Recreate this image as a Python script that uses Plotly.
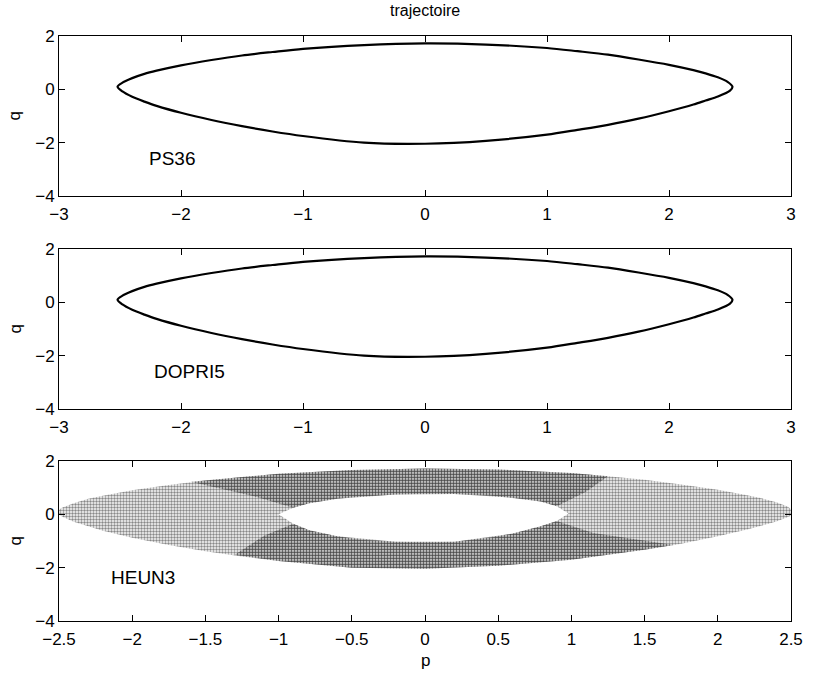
import plotly.graph_objects as go
from plotly.subplots import make_subplots

# Closed orbit (read from the PS36 / DOPRI5 panels): left tip -> top -> right tip -> bottom -> left tip
orbit_p = [-2.52, -2.48, -2.4, -2.3, -2.2, -2.0, -1.75, -1.5, -1.25, -1.0, -0.5, 0.0, 0.5, 1.0, 1.25,
           1.5, 1.75, 2.0, 2.2, 2.3, 2.4, 2.48, 2.52,
           2.5, 2.4, 2.3, 2.2, 2.0, 1.75, 1.5, 1.25, 1.0, 0.5, 0.0, -0.5, -1.0, -1.25, -1.5, -1.75,
           -2.0, -2.2, -2.3, -2.4, -2.48, -2.52]
orbit_q = [0.1, 0.25, 0.42, 0.58, 0.7, 0.9, 1.1, 1.27, 1.4, 1.52, 1.66, 1.72, 1.68, 1.55, 1.43,
           1.3, 1.12, 0.92, 0.72, 0.6, 0.45, 0.28, 0.1,
           -0.05, -0.27, -0.42, -0.57, -0.82, -1.1, -1.33, -1.52, -1.7, -1.93, -2.04, -2.0, -1.75, -1.58,
           -1.38, -1.15, -0.88, -0.62, -0.46, -0.28, -0.08, 0.1]

# Inner empty region of the HEUN3 band
hole_p = [-1.0, -0.9, -0.79, -0.6, -0.44, -0.2, 0.0, 0.2, 0.44, 0.6, 0.79, 0.9, 0.98,
          0.9, 0.79, 0.6, 0.44, 0.2, 0.0, -0.2, -0.44, -0.6, -0.79, -0.9, -1.0]
hole_q = [0.0, -0.35, -0.6, -0.82, -0.95, -1.03, -1.05, -1.03, -0.88, -0.72, -0.45, -0.25, 0.03,
          0.3, 0.48, 0.62, 0.71, 0.76, 0.77, 0.74, 0.67, 0.58, 0.42, 0.25, 0.0]

# Denser (darker) parts of the HEUN3 band: upper and lower arcs around the hole
upper_dense_p = [-1.6, -1.25, -1.0, -0.5, 0.0, 0.5, 1.0, 1.25, 1.1, 0.9, 0.79, 0.6, 0.2, -0.2, -0.6, -0.79, -0.9, -1.15, -1.6]
upper_dense_q = [1.22, 1.4, 1.52, 1.66, 1.72, 1.68, 1.55, 1.43, 0.85, 0.3, 0.48, 0.62, 0.76, 0.74, 0.58, 0.42, 0.25, 0.65, 1.22]
lower_dense_p = [1.7, 1.5, 1.25, 1.0, 0.5, 0.0, -0.5, -1.0, -1.3, -1.1, -0.9, -0.79, -0.6, -0.2, 0.2, 0.6, 0.79, 0.9, 1.15, 1.7]
lower_dense_q = [-1.15, -1.33, -1.52, -1.7, -1.93, -2.04, -2.0, -1.75, -1.52, -0.8, -0.35, -0.6, -0.82, -1.03, -1.03, -0.72, -0.45, -0.25, -0.7, -1.15]

method_labels = ["PS36", "DOPRI5", "HEUN3"]
label_p = [-2.28, -2.24, -2.16]
label_q = [-2.6, -2.6, -2.35]

xticks_top = [-3, -2, -1, 0, 1, 2, 3]
xticks_bottom = [-2.5, -2, -1.5, -1, -0.5, 0, 0.5, 1, 1.5, 2, 2.5]
yticks = [-4, -2, 0, 2]

FAM = "Liberation Sans, Arial, Helvetica, sans-serif"


def fmt(v):
    return ("%g" % v).replace("-", "\u2212")


fig = make_subplots(rows=3, cols=1, vertical_spacing=0.0)

for r in (1, 2):
    fig.add_trace(go.Scatter(x=orbit_p, y=orbit_q, mode="lines",
                             line=dict(color="black", width=2.2, shape="spline", smoothing=0.8),
                             showlegend=False, hoverinfo="skip"), row=r, col=1)

band_p = orbit_p + hole_p + [orbit_p[0]]
band_q = orbit_q + hole_q + [orbit_q[0]]
fig.add_trace(go.Scatter(x=band_p, y=band_q, mode="lines", fill="toself",
                         line=dict(width=0, color="rgba(0,0,0,0)"),
                         fillcolor="rgba(0,0,0,0)",
                         fillpattern=dict(shape=".", fgcolor="#111111", bgcolor="rgba(0,0,0,0)",
                                          size=3, solidity=0.52),
                         showlegend=False, hoverinfo="skip"), row=3, col=1)
for dp, dq in ((upper_dense_p, upper_dense_q), (lower_dense_p, lower_dense_q)):
    fig.add_trace(go.Scatter(x=dp, y=dq, mode="lines", fill="toself", line=dict(width=0, color="rgba(0,0,0,0)"),
                             fillcolor="rgba(0,0,0,0)",
                             fillpattern=dict(shape=".", fgcolor="#111111", bgcolor="rgba(0,0,0,0)",
                                              size=3, solidity=0.66),
                             showlegend=False, hoverinfo="skip"), row=3, col=1)

H = 585.0
W = 741.0
domains = [[(621 - 196) / H, 1.0], [(621 - 409) / H, (621 - 249) / H], [0.0, 160 / H]]
tick_font = dict(family=FAM, size=17, color="black")
text_font = dict(family=FAM, size=19, color="black")

for i in range(3):
    r = i + 1
    xt = xticks_bottom if r == 3 else xticks_top
    xr = [-2.5, 2.5] if r == 3 else [-3, 3]
    fig.update_xaxes(row=r, col=1, range=xr, tickvals=xt, ticktext=[fmt(v) for v in xt],
                     ticks="inside", ticklen=6, tickcolor="black", showline=True, linecolor="black",
                     linewidth=1, mirror="ticks", showgrid=False, zeroline=False, tickfont=tick_font,
                     ticklabelstandoff=3)
    fig.update_yaxes(row=r, col=1, range=[-4, 2], tickvals=yticks, ticktext=[fmt(v) for v in yticks],
                     ticks="inside", ticklen=6, tickcolor="black", showline=True, linecolor="black",
                     linewidth=1, mirror="ticks", showgrid=False, zeroline=False, tickfont=tick_font,
                     domain=domains[i])
    fig.add_annotation(x=label_p[i], y=label_q[i], xref="x%d" % r if r > 1 else "x",
                       yref="y%d" % r if r > 1 else "y", text=method_labels[i], showarrow=False,
                       xanchor="left", yanchor="middle", font=text_font)
    yc = (domains[i][0] + domains[i][1]) / 2
    fig.add_annotation(x=(14 - 59) / W, y=yc, xref="paper", yref="paper", text="q", textangle=-90,
                       showarrow=False, xanchor="center", yanchor="middle", font=tick_font)

fig.add_annotation(x=0.5, y=(621 - 660) / H, xref="paper", yref="paper", text="p",
                   showarrow=False, xanchor="center", yanchor="middle", font=tick_font)

fig.add_annotation(x=0.5, y=1 + 25 / H, xref="paper", yref="paper", text="trajectoire",
                   showarrow=False, xanchor="center", yanchor="middle",
                   font=dict(family=FAM, size=16, color="black"))

fig.update_layout(width=815, height=675, margin=dict(l=59, r=15, t=36, b=54),
                  paper_bgcolor="white", plot_bgcolor="white", font=tick_font)

fig.write_html("out.html", config={"displayModeBar": False, "responsive": False},
               post_script="document.body.style.margin='0';document.body.style.overflow='hidden';")
